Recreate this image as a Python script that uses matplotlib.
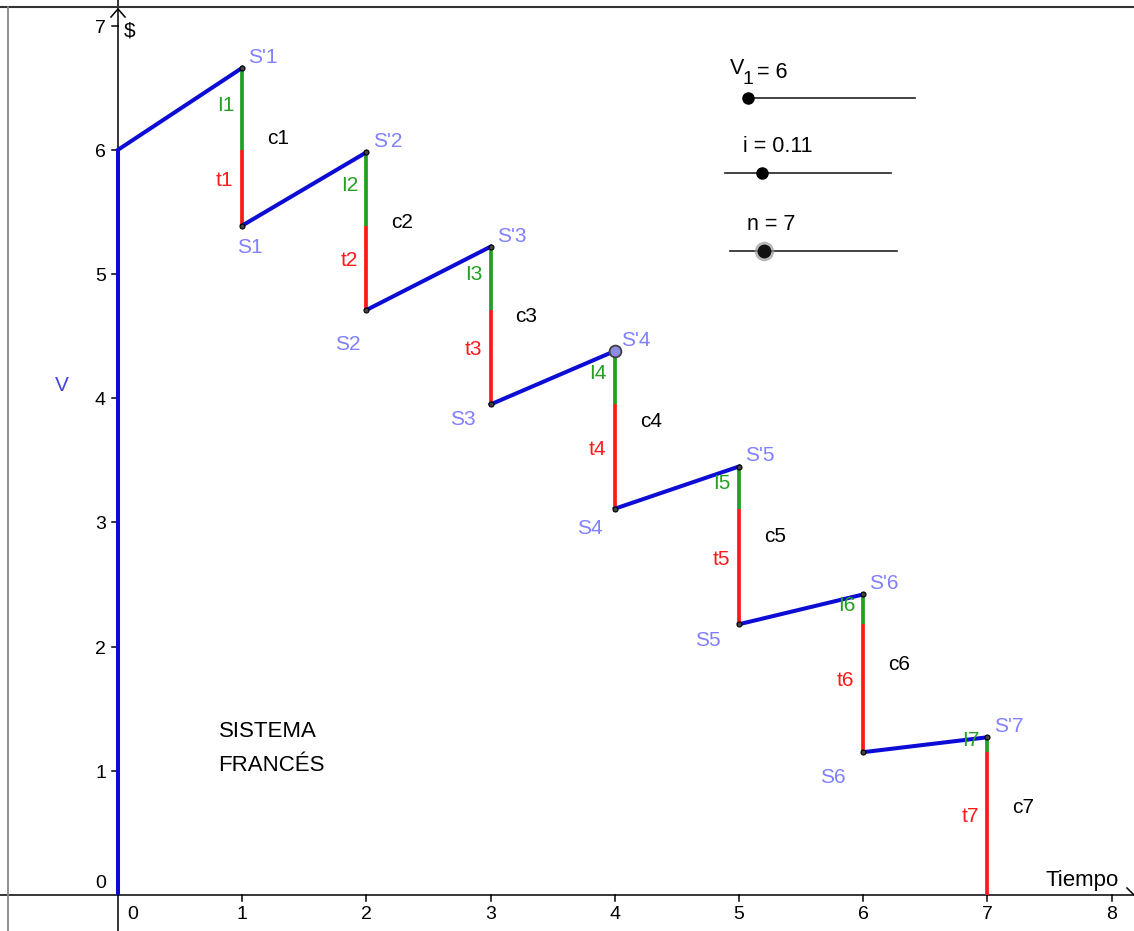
import matplotlib
matplotlib.use("Agg")
import matplotlib.pyplot as plt
from matplotlib.lines import Line2D

plt.rcParams['font.family'] = ['Liberation Sans', 'DejaVu Sans']

# valores (sistema frances, V1=6, i=0.11, n=7)
V1 = 6
tasa = 0.11
n = 7
periodos = [1, 2, 3, 4, 5, 6, 7]
saldo_inicial = 6.0
saldo_con_interes = [6.66, 5.98, 5.22, 4.38, 3.45, 2.42, 1.27]   # S'k
saldo_final = [5.39, 4.71, 3.95, 3.11, 2.18, 1.15, 0.0]          # Sk
x_ticks = [0, 1, 2, 3, 4, 5, 6, 7, 8]
y_ticks = [0, 1, 2, 3, 4, 5, 6, 7]

# colores
AZUL = '#0c0cd4'
AZUL_ETQ = '#8080ff'
VERDE = '#22a022'
ROJO = '#ff1a1a'

W, H = 1134, 931
ESC = 124.2
X0, Y0 = 118, 895   # pixel del origen

fig = plt.figure(figsize=(W / 100, H / 100), dpi=100)
ax = fig.add_axes([0, 0, 1, 1])
ax.set_xlim(-X0 / ESC, (W - X0) / ESC)
ax.set_ylim((Y0 - H) / ESC, Y0 / ESC)
ax.axis('off')

def fxy(px, py):
    return px / W, 1 - py / H

FS = 15

# ejes
ax.axhline(0, color='black', lw=1.1, zorder=1)
ax.axvline(0, color='black', lw=1.1, zorder=1)
tick = 6 / ESC
for k in x_ticks[1:]:
    ax.plot([k, k], [0, -tick], color='black', lw=1.1)
    ax.text(k, -0.153, str(k), ha='center', va='center', fontsize=FS - 1)
ax.text(0.12, -0.153, '0', ha='center', va='center', fontsize=FS - 1)
for k in y_ticks[1:]:
    ax.plot([0, -tick], [k, k], color='black', lw=1.1)
    ax.text(-0.097, k - 0.02, str(k), ha='right', va='center', fontsize=FS - 1)
ax.text(-0.097, 0.09, '0', ha='right', va='center', fontsize=FS - 1)

# flechas de los ejes
fig.add_artist(Line2D([111 / W, 118 / W, 125 / W], [1 - 17 / H, 1 - 9 / H, 1 - 17 / H],
                      color='black', lw=1.1))
fig.add_artist(Line2D([1127 / W, 1134 / W], [1 - 888 / H, 1 - 895 / H], color='black', lw=1.1))

ax.text(0.05, 6.96, '$', ha='left', va='center', fontsize=FS)
ax.text(-0.45, 4.1, 'V', ha='center', va='center', fontsize=FS, color='#4444dd')
ax.text(8.06, 0.12, 'Tiempo', ha='right', va='center', fontsize=FS + 1)

# poligonal del saldo
ax.plot([0, 0], [0, saldo_inicial], color=AZUL, lw=2.9, zorder=3, solid_capstyle='butt')
previo = saldo_inicial
for k, sp, s in zip(periodos, saldo_con_interes, saldo_final):
    ax.plot([k - 1, k], [previo, sp], color=AZUL, lw=2.9, zorder=3)
    ax.plot([k, k], [sp, previo], color=VERDE, lw=2.7, zorder=2, solid_capstyle='butt')
    ax.plot([k, k], [previo, s], color=ROJO, lw=2.7, zorder=2, solid_capstyle='butt')
    ax.text(k - 0.065, (sp + previo) / 2 + 0.03, f'I{k}', ha='right', va='center',
            fontsize=FS, color=VERDE)
    ax.text(k - 0.07, (previo + s) / 2 + 0.06, f't{k}', ha='right', va='center',
            fontsize=FS, color=ROJO)
    ax.text(k + 0.2, (sp + s) / 2 + 0.07, f'c{k}', ha='left', va='center',
            fontsize=FS, color='black')
    ax.text(k + 0.05, sp + 0.085, f"S'{k}", ha='left', va='center',
            fontsize=FS, color=AZUL_ETQ)
    previo = s

# etiquetas Sk (desplazamientos tal como aparecen)
s_dx = [-0.04, -0.25, -0.33, -0.30, -0.35, -0.35]
s_dy = [-0.18, -0.28, -0.12, -0.16, -0.13, -0.20]
for k, s, dx, dy in zip(periodos[:-1], saldo_final[:-1], s_dx, s_dy):
    ax.text(k + dx, s + dy, f'S{k}', ha='left', va='center', fontsize=FS, color=AZUL_ETQ)

# puntos
ax.plot(periodos, saldo_con_interes, 'o', ms=3.6, mfc='#444444', mec='black', mew=0.8, zorder=5)
ax.plot(periodos[:-1], saldo_final[:-1], 'o', ms=3.6, mfc='#444444', mec='black', mew=0.8, zorder=5)
ax.plot(periodos[3], saldo_con_interes[3], 'o', ms=8.5, mfc='#8c8ce6', mec='#404040', mew=1.3, zorder=6)

ax.text(0.81, 1.32, 'SISTEMA', ha='left', va='center', fontsize=FS + 1)
ax.text(0.81, 1.04, 'FRANCÉS', ha='left', va='center', fontsize=FS + 1)

# deslizadores
fig.add_artist(Line2D([fxy(745, 0)[0], fxy(915, 0)[0]], [fxy(0, 98)[1]] * 2, color='#222222', lw=1.2))
fig.add_artist(Line2D([fxy(725, 0)[0], fxy(891, 0)[0]], [fxy(0, 173)[1]] * 2, color='#222222', lw=1.2))
fig.add_artist(Line2D([fxy(730, 0)[0], fxy(897, 0)[0]], [fxy(0, 251)[1]] * 2, color='#222222', lw=1.2))
fig.add_artist(Line2D([fxy(748, 0)[0]], [fxy(0, 98)[1]], marker='o', ms=8, color='black'))
fig.add_artist(Line2D([fxy(762, 0)[0]], [fxy(0, 173)[1]], marker='o', ms=8, color='black'))
fig.add_artist(Line2D([fxy(764, 0)[0]], [fxy(0, 251)[1]], marker='o', ms=13, color='#999999', alpha=0.6))
fig.add_artist(Line2D([fxy(764, 0)[0]], [fxy(0, 251)[1]], marker='o', ms=9, color='#111111'))
fig.text(*fxy(730, 69), 'V', ha='left', va='center', fontsize=FS + 0.5)
fig.text(*fxy(743, 79), '1', ha='left', va='center', fontsize=FS - 1)
fig.text(*fxy(757, 72), f'= {V1}', ha='left', va='center', fontsize=FS + 0.5)
fig.text(*fxy(743, 147), f'i = {tasa}', ha='left', va='center', fontsize=FS + 0.5)
fig.text(*fxy(747, 225), f'n = {n}', ha='left', va='center', fontsize=FS + 0.5)

# bordes de la ventana
fig.add_artist(Line2D([0, 1], [1 - 7 / H] * 2, color='#333333', lw=1.5))
fig.add_artist(Line2D([8 / W] * 2, [0, 1 - 7 / H], color='#888888', lw=1.3))

fig.savefig('out.png', dpi=100)
